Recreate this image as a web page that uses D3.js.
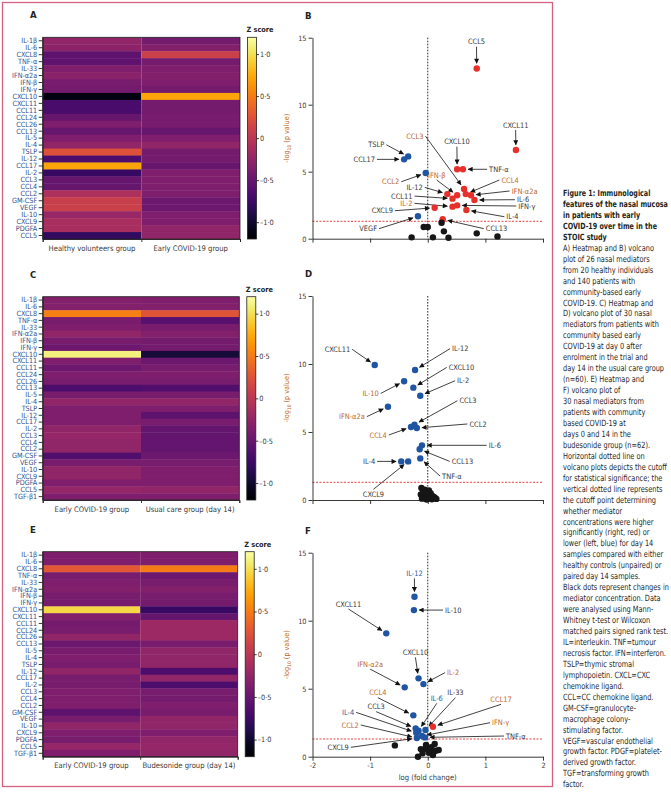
<!DOCTYPE html>
<html>
<head>
<meta charset="utf-8">
<script src="https://cdn.jsdelivr.net/npm/d3@7"></script>
<style>
  body { margin: 0; background: #fff; }
  svg text { font-family: "DejaVu Sans Condensed", "Liberation Sans", sans-serif; }
</style>
</head>
<body>
<svg id="fig" width="671" height="799"></svg>
<script>
// ---- data ----
const mediators29 = ['IL-1β','IL-6','CXCL8','TNF-α','IL-33','IFN-α2a','IFN-β','IFN-γ','CXCL10','CXCL11',
  'CCL11','CCL24','CCL26','CCL13','IL-5','IL-4','TSLP','IL-12','CCL17','IL-2','CCL3','CCL4','CCL2',
  'GM-CSF','VEGF','IL-10','CXCL9','PDGFA','CCL5'];
const mediators30 = mediators29.concat(['TGF-β1']);

const groupsA = ['Healthy volunteers group', 'Early COVID-19 group'];
const groupsC = ['Early COVID-19 group', 'Usual care group (day 14)'];
const groupsE = ['Early COVID-19 group', 'Budesonide group (day 14)'];

const zA1 = [-0.26,-0.29,-0.55,-0.55,-0.36,-0.30,-0.40,-0.42,-1.13,-0.67,-0.67,-0.50,-0.36,-0.50,-0.36,-0.26,0.24,-0.65,0.72,-0.77,-0.50,-0.50,-0.08,0.08,0.10,-0.22,-0.12,-0.12,-0.80];
const zA2 = [-0.42,-0.34,0.10,-0.42,-0.36,-0.34,-0.36,-0.42,0.72,-0.42,-0.42,-0.40,-0.40,-0.50,-0.36,-0.26,-0.42,-0.42,-0.50,-0.36,-0.36,-0.36,-0.36,-0.47,-0.47,-0.36,-0.36,-0.26,-0.26];
const zC1 = [-0.34,-0.34,0.53,-0.40,-0.36,-0.26,-0.40,-0.46,1.10,-0.36,-0.47,-0.36,-0.40,-0.65,-0.40,-0.26,-0.36,-0.36,-0.36,-0.26,-0.23,-0.26,-0.26,-0.62,-0.40,-0.26,-0.26,-0.36,-0.23,-0.36];
const zC2 = [-0.36,-0.34,0.26,-0.60,-0.40,-0.34,-0.42,-0.42,-0.96,-0.47,-0.40,-0.36,-0.40,-0.62,-0.40,-0.26,-0.36,-0.56,-0.40,-0.52,-0.52,-0.52,-0.52,-0.47,-0.40,-0.36,-0.36,-0.36,-0.26,-0.36];
const zE1 = [-0.36,-0.36,0.29,-0.40,-0.36,-0.34,-0.40,-0.40,0.96,-0.34,-0.42,-0.40,-0.26,-0.47,-0.40,-0.36,-0.40,-0.26,-0.40,-0.40,-0.36,-0.36,-0.36,-0.56,-0.40,-0.26,-0.36,-0.40,-0.23,-0.36];
const zE2 = [-0.36,-0.36,0.50,-0.47,-0.40,-0.34,-0.40,-0.42,-0.77,-0.52,-0.18,-0.18,-0.18,-0.40,-0.26,-0.26,-0.26,-0.65,-0.26,-0.65,-0.40,-0.42,-0.36,-0.40,-0.26,-0.26,-0.36,-0.26,-0.23,-0.26];
const zTicks = [-1, -0.5, 0, 0.5, 1];

// volcano points: [name, log fold change, -log10 p, direction]
const pointsB = [
  ['CCL5',0.85,12.7,'up'], ['CXCL11',1.53,6.62,'up'], ['TSLP',-0.34,6.14,'down'], ['CCL17',-0.41,5.92,'down'],
  ['CCL2',-0.035,4.9,'down'], ['CXCL10',0.51,5.18,'up'], ['TNF-α',0.61,5.18,'up'], ['CCL3',0.63,3.71,'up'],
  ['IL-12',0.34,3.33,'up'], ['IFN-β',0.51,3.24,'up'], ['CCL11',0.43,2.99,'up'], ['CCL4',0.66,3.33,'up'],
  ['IFN-α2a',0.75,3.24,'up'], ['IL-6',0.81,2.89,'up'], ['IFN-γ',0.51,2.49,'up'], ['IL-2',0.43,2.39,'up'],
  ['CXCL9',0.12,2.31,'up'], ['IL-4',0.67,2.14,'up'], ['CCL13',0.26,1.45,'up'], ['VEGF',-0.17,1.67,'down'],
  ['',-0.07,0.87,'ns'], ['',0.0,0.87,'ns'], ['',0.24,1.19,'ns'], ['',0.28,0.55,'ns'], ['',-0.28,0.1,'ns'],
  ['',0.09,0.1,'ns'], ['',0.36,0.07,'ns'], ['',0.85,0.4,'ns'], ['',1.21,0.17,'ns']
];
const pointsD = [
  ['CXCL11',-0.92,9.93,'down'], ['IL-12',-0.22,9.56,'down'], ['IL-10',-0.41,8.73,'down'], ['CXCL10',-0.25,8.26,'down'],
  ['IL-2',-0.13,7.67,'down'], ['IFN-α2a',-0.69,6.86,'down'], ['CCL4',-0.29,5.37,'down'], ['CCL3',-0.23,5.54,'down'],
  ['CCL2',-0.19,5.29,'down'], ['IL-6',-0.10,4.02,'down'], ['CCL13',-0.14,3.73,'down'], ['TNF-α',-0.13,3.06,'down'],
  ['IL-4',-0.46,2.84,'down'], ['CXCL9',-0.34,2.84,'down'],
  ['',-0.11,0.88,'ns'], ['',-0.05,0.75,'ns'], ['',0.02,0.70,'ns'], ['',-0.08,0.55,'ns'], ['',0.05,0.50,'ns'],
  ['',-0.12,0.40,'ns'], ['',0.0,0.35,'ns'], ['',0.08,0.30,'ns'], ['',-0.05,0.20,'ns'], ['',0.12,0.18,'ns'],
  ['',0.03,0.12,'ns'], ['',-0.10,0.10,'ns'], ['',0.15,0.08,'ns'], ['',0.07,0.05,'ns'], ['',-0.02,0.03,'ns'], ['',0.10,0.22,'ns']
];
const pointsF = [
  ['IL-12',-0.23,11.76,'down'], ['IL-10',-0.24,10.78,'down'], ['CXCL11',-0.72,9.07,'down'], ['CXCL10',-0.16,5.76,'down'],
  ['IL-2',-0.075,5.34,'down'], ['IFN-α2a',-0.40,5.10,'down'], ['CCL4',-0.25,3.04,'down'], ['CCL3',-0.21,2.08,'down'],
  ['IL-6',-0.16,1.91,'down'], ['IL-33',-0.04,1.96,'down'], ['IL-4',-0.20,1.76,'down'], ['CCL2',-0.19,1.37,'down'],
  ['IFN-γ',-0.10,1.52,'down'], ['TNF-α',-0.05,1.42,'down'], ['CCL17',0.09,2.20,'up'],
  ['CXCL9',-0.57,0.83,'ns'], ['',-0.12,0.56,'ns'], ['',-0.03,0.86,'ns'], ['',0.06,0.69,'ns'], ['',0.12,0.93,'ns'],
  ['',0.14,0.44,'ns'], ['',-0.09,0.25,'ns'], ['',0.02,0.29,'ns'], ['',0.09,0.12,'ns'], ['',-0.17,0.0,'ns'],
  ['',0.19,0.49,'ns'], ['',-0.04,0.59,'ns'], ['',0.04,0.49,'ns'], ['',0.10,0.35,'ns']
];

// annotation labels: [text, label x, label y (data units), anchor, target point]
const labelsB = [
  ['CCL5',0.846,14.7,'middle','CCL5'], ['CXCL11',1.525,8.48,'middle','CXCL11'], ['TSLP',-0.754,7.01,'end','TSLP'],
  ['CCL17',-0.915,5.92,'end','CCL17'], ['CCL2',-0.495,4.25,'end','CCL2'], ['CCL3',-0.075,7.66,'end','CCL3'],
  ['CXCL10',0.506,7.24,'middle','CXCL10'], ['TNF-α',1.065,5.18,'start','TNF-α'], ['IFN-β',0.155,4.75,'middle','IFN-β'],
  ['IL-12',-0.086,3.83,'end','IL-12'], ['CCL11',-0.265,3.18,'end','CCL11'], ['IL-2',-0.265,2.64,'end','IL-2'],
  ['CXCL9',-0.604,2.09,'end','CXCL9'], ['VEGF',-0.88,0.75,'end','VEGF'], ['CCL13',1.007,0.75,'start','CCL13'],
  ['CCL4',1.278,4.38,'start','CCL4'], ['IFN-α2a',1.456,3.56,'start','IFN-α2a'], ['IL-6',1.548,2.91,'start','IL-6'],
  ['IFN-γ',1.571,2.44,'start','IFN-γ'], ['IL-4',1.364,1.64,'start','IL-4']
];
const labelsD = [
  ['CXCL11',-1.347,11.08,'end','CXCL11'], ['IL-12',0.422,11.13,'start','IL-12'], ['CXCL10',0.364,9.75,'start','CXCL10'],
  ['IL-2',0.509,8.77,'start','IL-2'], ['IL-10',-0.85,7.84,'end','IL-10'], ['CCL3',0.549,7.30,'start','CCL3'],
  ['IFN-α2a',-1.092,6.13,'end','IFN-α2a'], ['CCL2',0.723,5.59,'start','CCL2'], ['CCL4',-0.711,4.78,'end','CCL4'],
  ['IL-6',1.058,4.02,'start','IL-6'], ['IL-4',-0.913,2.84,'end','IL-4'], ['CCL13',0.416,2.84,'start','CCL13'],
  ['TNF-α',0.249,1.76,'start','TNF-α'], ['CXCL9',-0.942,0.42,'middle','CXCL9']
];
const labelsF = [
  ['IL-12',-0.231,13.48,'middle','IL-12'], ['IL-10',0.30,10.78,'start','IL-10'], ['CXCL11',-1.376,11.23,'middle','CXCL11'],
  ['CXCL10',-0.214,7.67,'middle','CXCL10'], ['IL-2',0.335,6.18,'start','IL-2'], ['IFN-α2a',-1.0,6.81,'middle','IFN-α2a'],
  ['CCL4',-0.867,4.71,'middle','CCL4'], ['CCL3',-0.896,3.68,'middle','CCL3'], ['IL-4',-1.277,3.26,'end','IL-4'],
  ['CCL2',-1.197,2.33,'end','CCL2'], ['IL-6',0.156,4.29,'middle','IL-6'], ['IL-33',0.48,4.71,'middle','IL-33'],
  ['CCL17',1.272,4.22,'middle','CCL17'], ['IFN-γ',1.116,2.50,'start','IFN-γ'], ['TNF-α',1.358,1.52,'start','TNF-α'],
  ['CXCL9',-1.37,0.69,'end','CCL2']
];
const accentB = ['CCL3','CCL2','IFN-β','IL-2','CCL4','IFN-α2a'];
const accentD = ['IL-10','IFN-α2a','CCL4'];
const accentF = ['IL-2','IFN-α2a','CCL4','CCL2','CCL17','IFN-γ'];
const blueF = ['IL-12','IL-4','IL-6'];

const yTicks = [0, 5, 10, 15];
const xTicks = [-2, -1, 0, 1, 2];
const pCutoff = -Math.log10(0.05);

const captionTitle = ['Figure 1: Immunological', 'features of the nasal mucosa', 'in patients with early',
  'COVID-19 over time in the', 'STOIC study'];
const captionBody = ['A) Heatmap and B) volcano', 'plot of 26 nasal mediators', 'from 20 healthy  individuals',
  'and 140 patients with', 'community-based early', 'COVID-19. C) Heatmap and', 'D) volcano plot of 30 nasal',
  'mediators from patients with', 'community based early', 'COVID-19 at day 0 after', 'enrolment in the trial and',
  'day 14 in the usual care group', '(n=60). E) Heatmap and', 'F) volcano plot of', '30 nasal mediators from',
  'patients with community', 'based COVID-19 at', 'days 0 and 14 in the', 'budesonide group (n=62).',
  'Horizontal dotted line on', 'volcano plots depicts the cutoff', 'for statistical significance; the',
  'vertical dotted line represents', 'the cutoff point determining', 'whether mediator',
  'concentrations were higher', 'significantly (right, red) or', 'lower (left, blue) for day 14',
  'samples compared with either', 'healthy controls (unpaired) or', 'paired day 14 samples.',
  'Black dots represent changes in', 'mediator concentration. Data', 'were analysed using Mann-',
  'Whitney t-test or Wilcoxon', 'matched pairs signed rank test.', 'IL=interleukin. TNF=tumour',
  'necrosis factor. IFN=interferon.', 'TSLP=thymic stromal', 'lymphopoietin. CXCL=CXC', 'chemokine ligand.',
  'CCL=CC chemokine ligand.', 'GM-CSF=granulocyte-', 'macrophage colony-', 'stimulating factor.',
  'VEGF=vascular endothelial', 'growth factor. PDGF=platelet-', 'derived growth factor.', 'TGF=transforming growth',
  'factor.'];

// ---- drawing ----
const svg = d3.select('#fig');
const ink = '#3a3a3a';
const navy = '#34508a';
const orange = '#c0692e';
const defs = svg.append('defs');

defs.append('marker')
  .attr('id', 'ah')
  .attr('viewBox', '0 0 10 10')
  .attr('refX', 9).attr('refY', 5)
  .attr('markerUnits', 'userSpaceOnUse')
  .attr('markerWidth', 6).attr('markerHeight', 5)
  .attr('orient', 'auto')
  .append('path').attr('d', 'M0,0L10,5L0,10z').attr('fill', '#111');

const zColor = d3.scaleSequential(d3.interpolateInferno).domain([-1.2, 1.2]);
const grad = defs.append('linearGradient').attr('id', 'zgrad')
  .attr('x1', 0).attr('y1', 1).attr('x2', 0).attr('y2', 0);
d3.range(0, 1.001, 0.05).forEach(t => {
  grad.append('stop').attr('offset', t).attr('stop-color', d3.interpolateInferno(t));
});

// frame round the figure panels
svg.append('rect')
  .attr('x', 2.5).attr('y', 2.5).attr('width', 550).attr('height', 784)
  .attr('fill', 'none').attr('stroke', '#d2607f').attr('stroke-width', 1.3);

function zFormat(d) {
  if (d === 0) return '0';
  return (d < 0 ? '–' : '') + Math.abs(d).toFixed(1).replace('.', '·');
}

function styleAxis(a) {
  a.selectAll('path, line').attr('stroke', '#222').attr('stroke-width', 0.9);
  a.selectAll('text').attr('font-size', 7.3).attr('fill', ink);
}

function drawHeatmap(letter, box, rows, cols, values) {
  const g = svg.append('g');
  const x = d3.scaleBand().domain(cols).range([box.left, box.right]);
  const y = d3.scaleBand().domain(rows).range([box.top, box.bottom]);

  g.append('text').text(letter)
    .attr('x', 30).attr('y', box.top - 19)
    .attr('font-size', 9.5).attr('font-weight', 'bold').attr('fill', '#222');

  cols.forEach((c, ci) => {
    g.append('g').selectAll('rect')
      .data(rows)
      .enter()
      .append('rect')
      .attr('x', x(c))
      .attr('y', d => y(d))
      .attr('width', x.bandwidth())
      .attr('height', y.bandwidth() + 0.4)
      .attr('fill', (d, i) => zColor(values[ci][i]));
  });

  g.append('rect')
    .attr('x', box.left).attr('y', box.top)
    .attr('width', box.right - box.left).attr('height', box.bottom - box.top)
    .attr('fill', 'none').attr('stroke', '#222').attr('stroke-width', 0.8);

  const ay = g.append('g')
    .attr('transform', `translate(${box.left},0)`)
    .call(d3.axisLeft(y).tickSize(4).tickSizeOuter(0).tickPadding(1.5));
  styleAxis(ay);
  ay.selectAll('text').attr('fill', navy).attr('font-size', 7.2);

  const ax = g.append('g')
    .attr('transform', `translate(0,${box.bottom})`)
    .call(d3.axisBottom(d3.scaleLinear().domain([0, 2]).range([box.left, box.right]))
      .tickValues([0, 1, 2]).tickSize(3).tickFormat(''));
  styleAxis(ax);

  g.append('g').selectAll('text')
    .data(cols)
    .enter()
    .append('text')
    .text(d => d)
    .attr('x', d => x(d) + x.bandwidth() / 2)
    .attr('y', box.bottom + 11.5)
    .attr('text-anchor', 'middle')
    .attr('font-size', 7.6)
    .attr('fill', ink);

  // colour bar
  const cx = box.right + 7.5;
  const cw = 9;
  g.append('rect')
    .attr('x', cx).attr('y', box.top)
    .attr('width', cw).attr('height', box.bottom - box.top)
    .attr('fill', 'url(#zgrad)').attr('stroke', '#222').attr('stroke-width', 0.8);
  const zs = d3.scaleLinear().domain([-1.2, 1.2]).range([box.bottom, box.top]);
  const az = g.append('g')
    .attr('transform', `translate(${cx + cw},0)`)
    .call(d3.axisRight(zs).tickValues(zTicks).tickSize(2.5).tickPadding(1).tickFormat(zFormat));
  az.select('.domain').remove();
  styleAxis(az);
  g.append('text').text('Z score')
    .attr('x', cx - 1).attr('y', box.top - 5)
    .attr('font-size', 7.3).attr('font-weight', 'bold').attr('fill', '#222');
}

function drawVolcano(letter, box, points, labels, accent, blues, showX) {
  const g = svg.append('g');
  const x = d3.scaleLinear().domain([-2, 2]).range([312.5, 543]);
  const y = d3.scaleLinear().domain([0, 15]).range([box.bottom, box.top]);
  const r = 3.2;

  g.append('text').text(letter)
    .attr('x', 305).attr('y', box.top - 19)
    .attr('font-size', 9.5).attr('font-weight', 'bold').attr('fill', '#222');

  // significance cut-offs
  g.append('line')
    .attr('x1', x(0)).attr('x2', x(0)).attr('y1', y(15)).attr('y2', y(0))
    .attr('stroke', '#111').attr('stroke-width', 0.9).attr('stroke-dasharray', '1.6,1.4');
  g.append('line')
    .attr('x1', x(-2)).attr('x2', x(2)).attr('y1', y(pCutoff)).attr('y2', y(pCutoff))
    .attr('stroke', '#e0302c').attr('stroke-width', 0.9).attr('stroke-dasharray', '2,1.5');

  const ay = g.append('g')
    .attr('transform', `translate(${x(-2)},0)`)
    .call(d3.axisLeft(y).tickValues(yTicks).tickSize(4).tickSizeOuter(0).tickPadding(2));
  styleAxis(ay);

  const ax = g.append('g')
    .attr('transform', `translate(0,${y(0)})`)
    .call(d3.axisBottom(x).tickValues(xTicks).tickSize(4).tickSizeOuter(0).tickPadding(2)
      .tickFormat(showX ? (d => (d < 0 ? '-' : '') + Math.abs(d)) : ''));
  styleAxis(ax);

  const yl = g.append('text')
    .attr('transform', `translate(289,${(box.top + box.bottom) / 2}) rotate(-90)`)
    .attr('text-anchor', 'middle')
    .attr('font-size', 7.2)
    .attr('fill', orange);
  yl.append('tspan').text('-log');
  yl.append('tspan').text('10').attr('font-size', 5).attr('dy', 2);
  yl.append('tspan').text(' (p value)').attr('dy', -2);

  if (showX) {
    g.append('text').text('log (fold change)')
      .attr('x', x(0)).attr('y', y(0) + 23)
      .attr('text-anchor', 'middle')
      .attr('font-size', 7.6)
      .attr('fill', ink);
  }

  const byName = {};
  points.forEach(p => { if (p[0]) byName[p[0]] = p; });

  // labels and arrows
  labels.forEach(l => {
    const [txt, lx, ly, anchor, target] = l;
    const tx = x(lx);
    const ty = y(ly);
    g.append('text').text(txt)
      .attr('x', tx).attr('y', ty).attr('dy', '0.35em')
      .attr('text-anchor', anchor)
      .attr('font-size', 7.4)
      .attr('fill', blues.includes(txt) ? '#2c5aa0' : (accent.includes(txt) ? orange : ink));
    const p = byName[target];
    const px = x(p[1]);
    const py = y(p[2]);
    let sx = tx;
    let sy = ty;
    if (anchor === 'end') sx = tx + 2;
    else if (anchor === 'start') sx = tx - 2;
    else sy = py > ty ? ty + 5 : ty - 5;
    const dx = px - sx;
    const dy = py - sy;
    const len = Math.sqrt(dx * dx + dy * dy);
    const cut = r + 2;
    g.append('line')
      .attr('x1', sx).attr('y1', sy)
      .attr('x2', px - dx / len * cut).attr('y2', py - dy / len * cut)
      .attr('stroke', '#111').attr('stroke-width', 0.8)
      .attr('marker-end', 'url(#ah)');
  });

  const fill = { up: '#e8302a', down: '#1f55a2', ns: '#161616' };
  g.append('g').selectAll('circle')
    .data(points)
    .enter()
    .append('circle')
    .attr('cx', d => x(d[1]))
    .attr('cy', d => y(d[2]))
    .attr('r', r)
    .attr('fill', d => fill[d[3]]);
}

drawHeatmap('A', { top: 37.3, bottom: 239, left: 42.7, right: 240 }, mediators29, groupsA, [zA1, zA2]);
drawHeatmap('C', { top: 296.7, bottom: 500, left: 42.7, right: 239.3 }, mediators30, groupsC, [zC1, zC2]);
drawHeatmap('E', { top: 551.7, bottom: 756.7, left: 42.7, right: 237.7 }, mediators30, groupsE, [zE1, zE2]);

drawVolcano('B', { top: 37.7, bottom: 238.7 }, pointsB, labelsB, accentB, [], false);
drawVolcano('D', { top: 296, bottom: 500 }, pointsD, labelsD, accentD, [], false);
drawVolcano('F', { top: 552.7, bottom: 756.7 }, pointsF, labelsF, accentF, blueF, true);

// caption, squeezed horizontally to the column width of the reference
function fitColumn(sel, width) {
  let maxW = 0;
  sel.each(function () { maxW = Math.max(maxW, this.getComputedTextLength()); });
  const k = Math.min(1, width / maxW);
  sel.attr('transform', function () {
    return `translate(${this.getAttribute('x')},${this.getAttribute('y')}) scale(${k},1)`;
  }).attr('x', 0).attr('y', 0);
}

const cap = svg.append('g');
const lineH = 10.95;
const titleSel = cap.selectAll('text.t')
  .data(captionTitle)
  .enter()
  .append('text')
  .attr('class', 't')
  .text(d => d)
  .attr('x', 563)
  .attr('y', (d, i) => 196 + i * lineH)
  .attr('font-size', 8.6)
  .attr('font-weight', 'bold')
  .attr('fill', '#231f20');
const bodySel = cap.selectAll('text.b')
  .data(captionBody)
  .enter()
  .append('text')
  .attr('class', 'b')
  .text(d => d)
  .attr('x', 563)
  .attr('y', (d, i) => 196 + (i + captionTitle.length) * lineH)
  .attr('font-size', 8.6)
  .attr('fill', '#2a2a2a');
fitColumn(titleSel, 105);
fitColumn(bodySel, 106);
</script>
</body>
</html>
